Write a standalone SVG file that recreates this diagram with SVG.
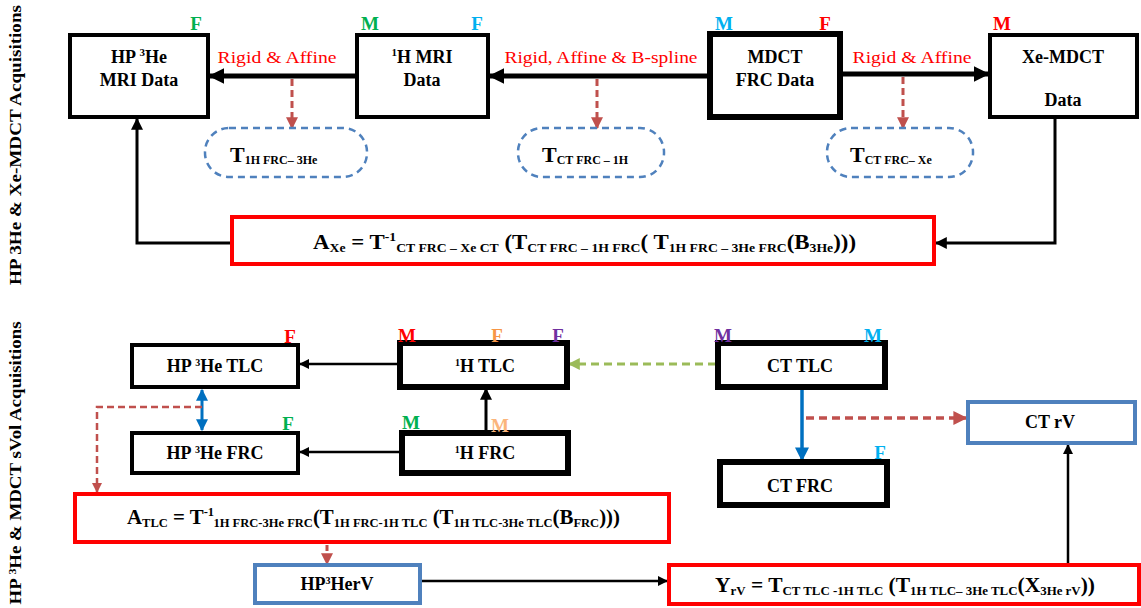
<svg xmlns="http://www.w3.org/2000/svg" width="1141" height="608" viewBox="0 0 1141 608">
<defs>
<style>
text{font-family:"Liberation Serif","Times New Roman",serif;}
.nt{font-size:18px;font-weight:bold;fill:#000;text-anchor:middle;}
.lbl{font-size:17px;fill:#ff0000;text-anchor:middle;}
.mf{font-size:19px;font-weight:bold;text-anchor:middle;}
.side{font-size:16px;font-weight:bold;fill:#000;text-anchor:middle;}
.box{fill:#fff;stroke:#000;stroke-width:4;}
.boxk{fill:#fff;stroke:#000;stroke-width:6;}
.bbox{fill:#fff;stroke:#4f81bd;stroke-width:4;}
.rbox{fill:#fff;stroke:#ff0000;stroke-width:4;}
.dbox{fill:none;stroke:#4f81bd;stroke-width:2.5;stroke-dasharray:7 5;}
.fm{font-size:20px;font-weight:bold;fill:#000;}
.s{font-size:12px;}
.tt{font-size:22px;font-weight:bold;fill:#000;}
.ts{font-size:12px;}
</style>
<marker id="ak" viewBox="0 0 10 10" refX="9" refY="5" markerWidth="3.2" markerHeight="3.2" orient="auto"><path d="M0,0 L10,5 L0,10 z" fill="#000"/></marker>
<marker id="ak2" viewBox="0 0 10 10" refX="9" refY="5" markerWidth="4" markerHeight="4" orient="auto"><path d="M0,0 L10,5 L0,10 z" fill="#000"/></marker>
<marker id="ar" viewBox="0 0 10 10" refX="9" refY="5" markerWidth="4" markerHeight="4" orient="auto"><path d="M0,0 L10,5 L0,10 z" fill="#c0504d"/></marker>
<marker id="ag" viewBox="0 0 10 10" refX="9" refY="5" markerWidth="4" markerHeight="4" orient="auto"><path d="M0,0 L10,5 L0,10 z" fill="#9bbb59"/></marker>
<marker id="ab" viewBox="0 0 10 10" refX="9" refY="5" markerWidth="4" markerHeight="4" orient="auto"><path d="M0,0 L10,5 L0,10 z" fill="#0070c0"/></marker>
<marker id="abs" viewBox="0 0 10 10" refX="9" refY="5" markerWidth="4" markerHeight="4" orient="auto-start-reverse"><path d="M0,0 L10,5 L0,10 z" fill="#0070c0"/></marker>
</defs>
<rect width="1141" height="608" fill="#fff"/>

<!-- side labels -->
<text class="side" transform="translate(21,145) rotate(-90)" textLength="280" lengthAdjust="spacingAndGlyphs">HP 3He &amp; Xe-MDCT Acquisitions</text>
<text class="side" transform="translate(21,463) rotate(-90)" textLength="283" lengthAdjust="spacingAndGlyphs">HP <tspan font-size="10" dy="-5">3</tspan><tspan dy="5">He &amp; MDCT sVol Acquisitions</tspan></text>

<!-- connectors -->
<g id="connectors" fill="none">
<line x1="357" y1="76" x2="210" y2="76" stroke="#000" stroke-width="5" marker-end="url(#ak)"/>
<line x1="710" y1="76" x2="490" y2="76" stroke="#000" stroke-width="5" marker-end="url(#ak)"/>
<line x1="840" y1="74" x2="988" y2="74" stroke="#000" stroke-width="5" marker-end="url(#ak)"/>
<line x1="292" y1="79" x2="292" y2="128" stroke="#c0504d" stroke-width="3" stroke-dasharray="7 4" marker-end="url(#ar)"/>
<line x1="597" y1="79" x2="597" y2="128" stroke="#c0504d" stroke-width="3" stroke-dasharray="7 4" marker-end="url(#ar)"/>
<line x1="903" y1="77" x2="903" y2="128" stroke="#c0504d" stroke-width="3" stroke-dasharray="7 4" marker-end="url(#ar)"/>
<polyline points="1055,117 1055,243 936,243" stroke="#000" stroke-width="3" marker-end="url(#ak2)"/>
<polyline points="232,243 137,243 137,119" stroke="#000" stroke-width="3" marker-end="url(#ak2)"/>

<line x1="400" y1="364" x2="300" y2="364" stroke="#000" stroke-width="2.5" marker-end="url(#ak2)"/>
<line x1="402" y1="452" x2="300" y2="452" stroke="#000" stroke-width="2.5" marker-end="url(#ak2)"/>
<line x1="486" y1="433" x2="486" y2="389" stroke="#000" stroke-width="3" marker-end="url(#ak2)"/>
<line x1="716" y1="364" x2="569" y2="364" stroke="#9bbb59" stroke-width="3" stroke-dasharray="8 5" marker-end="url(#ag)"/>
<line x1="202" y1="390" x2="202" y2="430" stroke="#0070c0" stroke-width="3" marker-start="url(#abs)" marker-end="url(#abs)"/>
<polyline points="202,407 97,407 97,492" stroke="#c0504d" stroke-width="2.5" stroke-dasharray="7 4" marker-end="url(#ar)"/>
<line x1="802" y1="390" x2="802" y2="460" stroke="#0070c0" stroke-width="3.5" marker-end="url(#ab)"/>
<line x1="806" y1="418" x2="966" y2="418" stroke="#c0504d" stroke-width="3.5" stroke-dasharray="8 5" marker-end="url(#ar)"/>
<line x1="327" y1="545" x2="327" y2="564" stroke="#c0504d" stroke-width="3" stroke-dasharray="6 4" marker-end="url(#ar)"/>
<line x1="420" y1="581" x2="667" y2="581" stroke="#000" stroke-width="2.5" marker-end="url(#ak2)"/>
<line x1="1068" y1="565" x2="1068" y2="445" stroke="#000" stroke-width="2.5" marker-end="url(#ak2)"/>
</g>

<!-- edge labels -->
<text class="lbl" x="277" y="63" textLength="119" lengthAdjust="spacingAndGlyphs">Rigid &amp; Affine</text>
<text class="lbl" x="601" y="63" textLength="193" lengthAdjust="spacingAndGlyphs">Rigid, Affine &amp; B-spline</text>
<text class="lbl" x="912" y="63" textLength="119" lengthAdjust="spacingAndGlyphs">Rigid &amp; Affine</text>

<!-- top row nodes -->
<g id="hp3he-mri">
<rect class="box" x="70" y="35" width="138" height="82"/>
<text class="nt" x="139" y="63">HP <tspan font-size="11" dy="-7">3</tspan><tspan dy="7">He</tspan></text>
<text class="nt" x="139" y="86">MRI Data</text>
<text class="mf" x="196" y="30" fill="#00b050">F</text>
</g>
<g id="h1-mri">
<rect class="box" x="357" y="35" width="131" height="82"/>
<text class="nt" x="422" y="63"><tspan font-size="11" dy="-7">1</tspan><tspan dy="7">H MRI</tspan></text>
<text class="nt" x="422" y="86">Data</text>
<text class="mf" x="370" y="30" fill="#00b050">M</text>
<text class="mf" x="477" y="30" fill="#00b0f0">F</text>
</g>
<g id="mdct-frc">
<rect class="boxk" x="710" y="34" width="130" height="83"/>
<text class="nt" x="775" y="63">MDCT</text>
<text class="nt" x="775" y="86">FRC Data</text>
<text class="mf" x="724" y="30" fill="#00b0f0">M</text>
<text class="mf" x="825" y="30" fill="#ff0000">F</text>
</g>
<g id="xe-mdct">
<rect class="box" x="990" y="35" width="147" height="82"/>
<text class="nt" x="1063" y="63">Xe-MDCT</text>
<text class="nt" x="1063" y="106">Data</text>
<text class="mf" x="1002" y="30" fill="#ff0000">M</text>
</g>

<!-- transform ovals -->
<g id="t1">
<rect class="dbox" x="205" y="128" width="162" height="49" rx="24"/>
<text class="tt" x="230" y="162">T<tspan class="ts" dy="2">1H FRC– 3He</tspan></text>
</g>
<g id="t2">
<rect class="dbox" x="518" y="128" width="146" height="49" rx="24"/>
<text class="tt" x="542" y="162">T<tspan class="ts" dy="2">CT FRC – 1H</tspan></text>
</g>
<g id="t3">
<rect class="dbox" x="827" y="128" width="146" height="49" rx="24"/>
<text class="tt" x="850" y="162">T<tspan class="ts" dy="2">CT FRC– Xe</tspan></text>
</g>

<!-- formula 1 -->
<g id="formula-axe">
<rect class="rbox" x="232" y="217" width="702" height="47"/>
<text class="fm" x="313" y="249" textLength="543" lengthAdjust="spacingAndGlyphs">A<tspan class="s" dy="3">Xe</tspan><tspan dy="-3"> = T</tspan><tspan class="s" dy="-8">-1</tspan><tspan class="s" dy="11">CT FRC – Xe CT</tspan><tspan dy="-3"> (T</tspan><tspan class="s" dy="3">CT FRC – 1H FRC</tspan><tspan dy="-3">( T</tspan><tspan class="s" dy="3">1H FRC – 3He FRC</tspan><tspan dy="-3">(B</tspan><tspan class="s" dy="3">3He</tspan><tspan dy="-3">)))</tspan></text>
</g>

<!-- bottom section nodes -->
<g id="hp-tlc">
<rect class="box" x="132" y="345" width="166" height="42"/>
<text class="nt" x="215" y="372">HP <tspan font-size="10" dy="-6">3</tspan><tspan dy="6">He TLC</tspan></text>
<text class="mf" x="290" y="343" fill="#ff0000">F</text>
</g>
<g id="hp-frc">
<rect class="box" x="132" y="433" width="166" height="40"/>
<text class="nt" x="215" y="459">HP <tspan font-size="10" dy="-6">3</tspan><tspan dy="6">He FRC</tspan></text>
<text class="mf" x="288" y="430" fill="#00b050">F</text>
</g>
<g id="h1-tlc">
<rect class="boxk" x="400" y="343" width="167" height="44"/>
<text class="nt" x="485" y="372"><tspan font-size="10" dy="-6">1</tspan><tspan dy="6">H TLC</tspan></text>
<text class="mf" x="407" y="342" fill="#ff0000">M</text>
<text class="mf" x="497" y="342" fill="#f79646">F</text>
<text class="mf" x="558" y="342" fill="#7030a0">F</text>
</g>
<g id="h1-frc">
<rect class="boxk" x="402" y="433" width="166" height="40"/>
<text class="nt" x="485" y="459"><tspan font-size="10" dy="-6">1</tspan><tspan dy="6">H FRC</tspan></text>
<text class="mf" x="411" y="429" fill="#00b050">M</text>
<text class="mf" x="500" y="432" fill="#fbb57b">M</text>
</g>
<g id="ct-tlc">
<rect class="boxk" x="718" y="343" width="167" height="44"/>
<text class="nt" x="800" y="372">CT TLC</text>
<text class="mf" x="723" y="342" fill="#7030a0">M</text>
<text class="mf" x="873" y="342" fill="#00b0f0">M</text>
</g>
<g id="ct-frc">
<rect class="boxk" x="720" y="462" width="167" height="43"/>
<text class="nt" x="800" y="492">CT FRC</text>
<text class="mf" x="880" y="459" fill="#00b0f0">F</text>
</g>
<g id="ct-rv">
<rect class="bbox" x="968" y="402" width="167" height="41"/>
<text class="nt" x="1050" y="428">CT rV</text>
</g>

<!-- formula 2 -->
<g id="formula-atlc">
<rect class="rbox" x="75" y="494" width="594" height="48"/>
<text class="fm" x="127" y="524" textLength="493" lengthAdjust="spacingAndGlyphs">A<tspan class="s" dy="3">TLC</tspan><tspan dy="-3"> = T</tspan><tspan class="s" dy="-8">-1</tspan><tspan class="s" dy="11">1H FRC-3He FRC</tspan><tspan dy="-3">(T</tspan><tspan class="s" dy="3">1H FRC-1H TLC</tspan><tspan dy="-3"> (T</tspan><tspan class="s" dy="3">1H TLC-3He TLC</tspan><tspan dy="-3">(B</tspan><tspan class="s" dy="3">FRC</tspan><tspan dy="-3">)))</tspan></text>
</g>

<g id="hp-rv">
<rect class="bbox" x="255" y="565" width="165" height="38"/>
<text class="nt" x="337" y="590">HP<tspan font-size="10" dy="-6">3</tspan><tspan dy="6">HerV</tspan></text>
</g>

<!-- formula 3 -->
<g id="formula-yrv">
<rect class="rbox" x="669" y="565" width="470" height="39"/>
<text class="fm" x="715" y="592" textLength="380" lengthAdjust="spacingAndGlyphs">Y<tspan class="s" dy="3">rV</tspan><tspan dy="-3"> = T</tspan><tspan class="s" dy="3">CT TLC -1H TLC</tspan><tspan dy="-3"> (T</tspan><tspan class="s" dy="3">1H TLC– 3He TLC</tspan><tspan dy="-3">(X</tspan><tspan class="s" dy="3">3He rV</tspan><tspan dy="-3">))</tspan></text>
</g>
</svg>
